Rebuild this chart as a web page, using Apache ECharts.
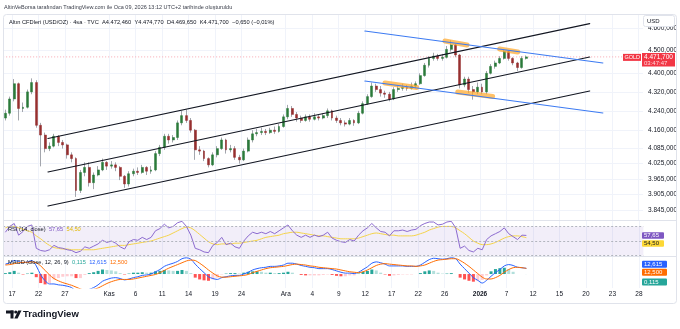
<!DOCTYPE html>
<html><head><meta charset="utf-8">
<script src="https://cdn.jsdelivr.net/npm/echarts@6/dist/echarts.min.js"></script>
<style>html,body{margin:0;padding:0;background:#fff}#c{width:680px;height:329px}</style>
</head><body><div id="c"></div>
<script>
const FONT = "'Liberation Sans', Arial, sans-serif";
const N_SLOTS = 145; // half-day slots, incl. future space
const tickSlots = [2,8,14,24,30,36,42,48,54,64,70,76,82,88,94,100,108,114,120,126,132,138,144];
const tickLabels = ['17','22','27','Kas','6','11','14','19','24','Ara','4','9','12','17','22','26','2026','7','12','15','20','23','28'];
const priceTicks = [3845,3905,3965,4025,4085,4160,4240,4320,4400,4500,4600];

// [open, close, low, high]
const candles = [
[4210,4230,4200,4245],[4230,4290,4220,4300],[4290,4355,4280,4375],[4355,4250,4200,4360],[4250,4255,4235,4275],
[4255,4320,4250,4330],[4320,4360,4310,4378],[4360,4180,4170,4370],[4180,4140,4014,4190],[4140,4085,4070,4150],
[4085,4095,4075,4110],[4095,4135,4090,4145],[4135,4110,4095,4140],[4110,4100,4085,4120],[4100,4060,4045,4105],
[4060,4045,4030,4070],[4045,3920,3895,4050],[3920,3990,3910,4000],[3990,4010,3975,4030],[4010,3950,3935,4030],
[3950,3980,3925,3990],[3980,4000,3975,4015],[4000,4030,3995,4045],[4030,4015,4000,4035],[4015,4020,4005,4035],
[4020,4010,3995,4030],[4010,3975,3960,4015],[3975,3945,3930,3980],[3945,3985,3935,3995],[3985,3995,3975,4005],
[3995,3990,3980,4010],[3990,4010,3985,4020],[4010,3995,3980,4015],[3995,4000,3985,4015],[4000,4065,3995,4075],
[4065,4090,4055,4100],[4090,4135,4080,4145],[4135,4120,4105,4145],[4120,4130,4110,4140],[4130,4190,4120,4200],
[4190,4220,4180,4240],[4220,4200,4190,4245],[4200,4160,4150,4210],[4160,4080,4040,4165],[4080,4075,4060,4095],
[4075,4045,4035,4080],[4045,4020,4010,4050],[4020,4060,4015,4070],[4060,4085,4050,4095],[4085,4120,4080,4130],
[4120,4080,4065,4125],[4080,4085,4070,4100],[4085,4050,4040,4095],[4050,4040,4025,4060],[4040,4075,4035,4085],
[4075,4120,4070,4130],[4120,4145,4110,4160],[4145,4150,4135,4165],[4150,4155,4140,4170],[4155,4150,4140,4165],
[4150,4160,4145,4170],[4160,4155,4145,4175],[4155,4175,4150,4185],[4175,4215,4170,4225],[4215,4250,4205,4265],
[4250,4225,4215,4260],[4225,4210,4195,4235],[4210,4200,4190,4220],[4200,4215,4195,4225],[4215,4205,4195,4225],
[4205,4215,4200,4230],[4215,4210,4200,4225],[4210,4220,4205,4230],[4220,4240,4210,4250],[4240,4210,4200,4245],
[4210,4200,4190,4220],[4200,4190,4180,4210],[4190,4185,4175,4200],[4185,4200,4180,4210],[4200,4190,4178,4205],
[4190,4230,4185,4240],[4230,4270,4225,4280],[4270,4300,4265,4310],[4300,4345,4295,4360],[4345,4330,4320,4355],
[4330,4315,4300,4345],[4315,4310,4295,4325],[4310,4290,4280,4320],[4290,4330,4285,4340],[4330,4335,4320,4345],
[4335,4340,4325,4355],[4340,4335,4325,4350],[4335,4345,4330,4360],[4345,4355,4335,4365],[4355,4390,4350,4400],
[4390,4435,4385,4445],[4435,4465,4425,4475],[4465,4475,4455,4490],[4475,4465,4455,4485],[4465,4470,4455,4485],
[4470,4505,4465,4520],[4505,4525,4495,4545],[4525,4480,4470,4530],[4480,4350,4335,4485],[4350,4375,4340,4385],
[4375,4330,4315,4385],[4330,4320,4287,4345],[4320,4340,4310,4360],[4340,4320,4310,4355],[4320,4400,4310,4410],
[4400,4430,4395,4440],[4430,4445,4420,4455],[4445,4465,4440,4475],[4465,4495,4460,4505],[4495,4465,4455,4500],
[4465,4445,4435,4470],[4445,4425,4410,4450],[4425,4465,4420,4475],[4465,4471.7,4460,4478]
];

const rsi = [62,70,74,58,63,70,72,40,37,36, 38,44,41,40,38,37,34,36,42,40, 43,46,51,48,50,47,42,39,49,52,
 51,55,52,55,64,67,73,68,70,75, 77,70,58,40,38,35,34,44,48,55, 45,47,42,40,50,57,62,60,62,60,
 63,60,64,68,72,64,58,55,58,55, 58,56,58,62,54,51,49,48,52,50, 58,64,68,74,68,63,62,57,64,64,
 65,63,65,66,71,74,76,76,72,73, 76,77,68,40,43,37,35,40,38,52, 57,60,63,68,60,56,52,58,57.65];
const rsiMA = [68,70,70,68,66,64,62,57,53,48, 44,41,40,39,39,38,38,38,38,38, 38,39,40,41,42,43,44,44,45,46,
 47,48,49,50,52,54,56,58,61,64, 67,69,68,64,59,54,49,46,45,46, 46,46,47,47,48,49,50,51,53,55,
 56,57,58,60,61,62,62,61,60,59, 58,57,57,56,55,54,53,53,53,53, 54,56,58,60,61,60,59,58,58,57,
 57,57,57,58,60,62,65,67,69,70, 70,70,68,64,60,55,50,47,45,45, 46,48,51,54,56,57,57,56,54.5];
const macd = [22,25,30,28,25,27,30,18,-2,-15, -22,-22,-24,-25,-27,-30,-38,-42,-38,-34, -30,-24,-16,-12,-9,-8,-10,-13,-11,-8,
 -6,-3,-2,0,5,10,17,21,24,28, 34,36,33,22,12,3,-6,-10,-12,-8, -6,-4,-3,-3,0,4,9,12,14,15,
 17,17,18,20,24,24,22,19,17,15, 14,12,12,12,10,7,4,2,2,1, 4,10,16,24,27,25,22,18,18,18,
 18,17,17,17,20,26,32,35,34,33, 34,36,34,22,12,2,-8,-14,-20,-14, -5,3,10,18,21,19,15,14,12.615];
const signal = [20,21,23,25,26,26,27,25,18,8, -2,-10,-15,-19,-22,-25,-29,-33,-36,-36, -34,-31,-26,-21,-17,-14,-12,-12,-12,-11,
 -9,-7,-5,-3,-1,3,8,13,17,21, 25,29,31,30,24,17,9,2,-4,-7, -7,-6,-5,-4,-3,-1,3,6,9,12,
 14,15,16,17,19,21,22,21,20,18, 17,15,14,13,12,11,9,7,5,4, 3,5,9,14,19,22,23,22,21,20,
 19,18,18,17,18,20,24,28,31,32, 33,34,34,30,24,17,9,1,-7,-11, -11,-8,-3,4,10,14,15,14,12.5];
const hist = [2,4,7,3,-1,1,3,-7,-20,-23, -20,-12,-9,-6,-5,-5,-9,-9,-2,2, 4,7,10,9,8,6,2,-1,1,3,
 3,4,3,3,6,7,9,8,7,7, 9,7,2,-8,-12,-14,-15,-12,-8,-1, 1,2,2,1,3,5,6,6,5,3,
 3,2,2,3,5,3,0,-2,-3,-3, -3,-3,-2,-1,-2,-4,-5,-5,-3,-3, 1,5,7,10,8,3,-1,-4,-3,-2,
 -1,-1,-1,0,2,6,8,7,3,1, 1,2,0,-8,-12,-15,-17,-15,-13,-3, 6,11,13,14,11,5,0,0,0.115];

// drawn lines: [slot position, price]
const channelUpper = [[10.15,4125.9],[132.9,4620.9]];
const channelMid   = [[10.15,3991.9],[132.9,4471.2]];
const channelLower = [[10.15,3860.2],[132.9,4323.8]];
const blueUpper = [[81.95,4587.4],[135.9,4444.9]];
const blueLower = [[81.95,4366.7],[135.9,4231.0]];
const marks = [
  [[86.5,4358.1],[93.7,4338.8]],
  [[100.1,4542.4],[105.1,4524.5]],
  [[112.5,4506.7],[116.6,4493.3]],
  [[103.0,4319.5],[110.9,4300.4]]
];
const lastClose = 4471.7;
const lastOpen = 4472.46, lastHigh = 4474.77, lastLow = 4469.65;
const lastChange = -0.65, lastPct = -0.01;
const rsiLast = 57.65, rsiMALast = 54.50;
const macdLast = 12.615, signalLast = 12.5, histLast = 0.115;

function fmt(v, dec) {
  const s = Math.abs(v).toFixed(dec);
  let [i, d] = s.split('.');
  i = i.replace(/\B(?=(\d{3})+(?!\d))/g, '.');
  return (v < 0 ? '\u2212' : '') + i + (d ? ',' + d : '');
}

const cats = Array.from({length: N_SLOTS}, (_, i) => i);
const bodies = candles.map(c => [c[0], c[1], Math.min(c[0], c[1]), Math.max(c[0], c[1])]);
const GL = 3.17, GW = 640.2;
const GRID_COLOR = '#f0f3fa';

function valueX(gridIndex, showLabels) {
  return {
    type: 'value', gridIndex, min: 0, max: N_SLOTS, position: 'bottom',
    axisLine: {show: false},
    axisTick: {show: false, customValues: tickSlots},
    splitLine: {show: true, lineStyle: {color: GRID_COLOR, width: 1}},
    axisLabel: showLabels ? {
      show: true, customValues: tickSlots, margin: 3, fontSize: 6.5, color: '#131722', fontFamily: FONT,
      formatter: v => { const k = tickSlots.indexOf(Math.round(v)); const t = tickLabels[k] || ''; return t === '2026' ? '{b|2026}' : t; },
      rich: {b: {fontWeight: 'bold', fontSize: 6.5, fontFamily: FONT, color: '#131722'}}
    } : {show: false}
  };
}
function catX(gridIndex) {
  return {type: 'category', gridIndex, data: cats, boundaryGap: true, show: false, position: 'bottom'};
}
function seg(data, color, width, opacity) {
  return {type: 'line', xAxisIndex: 1, yAxisIndex: 0, data, symbol: 'none', silent: true,
    lineStyle: {color, width, opacity: opacity == null ? 1 : opacity, cap: 'round'}, z: 4};
}

const option = {
  animation: false,
  backgroundColor: '#ffffff',
  grid: [
    {left: GL, top: 15, width: GW, height: 205},
    {left: GL, top: 221, width: GW, height: 35},
    {left: GL, top: 257, width: GW, height: 31}
  ],
  xAxis: [catX(0), valueX(0, false), catX(1), valueX(1, false), catX(2), valueX(2, true)],
  yAxis: [
    {type: 'log', logBase: 10, gridIndex: 0, min: 3807.3, max: 4660.3, position: 'right',
      axisLine: {show: false}, axisTick: {show: false, customValues: priceTicks},
      splitLine: {show: true, lineStyle: {color: GRID_COLOR}},
      axisLabel: {customValues: priceTicks, margin: 5, fontSize: 6.5, color: '#131722', fontFamily: FONT,
        formatter: v => fmt(Math.round(v), 3)}},
    {type: 'value', gridIndex: 1, min: 29.45, max: 77.4, show: false, splitLine: {show: false}},
    {type: 'value', gridIndex: 2, min: -31, max: 37.8, show: false, splitLine: {show: false}}
  ],
  series: [
    {type: 'candlestick', xAxisIndex: 0, yAxisIndex: 0, data: candles, barWidth: 1, silent: true,
      itemStyle: {color: '#a3a6ad', color0: '#a3a6ad', borderColor: '#a3a6ad', borderColor0: '#a3a6ad', borderWidth: 1}},
    {type: 'candlestick', xAxisIndex: 0, yAxisIndex: 0, data: bodies, barWidth: 2.4, silent: true,
      itemStyle: {color: '#2b7a3a', color0: '#962f2f', borderColor: '#2b7a3a', borderColor0: '#962f2f', borderWidth: 0.5}},
    seg(channelUpper, '#131722', 1.2),
    seg(channelMid, '#131722', 1.2),
    seg(channelLower, '#131722', 1.2),
    seg(blueUpper, '#3d7bf2', 1.1),
    seg(blueLower, '#3d7bf2', 1.1),
    ...marks.map(m => Object.assign(seg(m, '#ffa726', 5, 0.7), {z: 3})),
    {type: 'line', xAxisIndex: 1, yAxisIndex: 0, data: [[0, lastClose], [N_SLOTS, lastClose]], symbol: 'none', silent: true,
      lineStyle: {type: [1, 2], color: '#f7a8b0', width: 1}, z: 2},
    {type: 'line', xAxisIndex: 2, yAxisIndex: 1, data: rsi, symbol: 'none', silent: true,
      lineStyle: {color: '#8c6bcf', width: 1}, z: 3,
      markArea: {silent: true, itemStyle: {color: 'rgba(126,87,194,0.1)'}, data: [[{yAxis: 30}, {yAxis: 70}]]},
      markLine: {symbol: 'none', silent: true, label: {show: false},
        lineStyle: {type: [2, 2], color: '#b2b5be', width: 1}, data: [{yAxis: 70}, {yAxis: 50}, {yAxis: 30}]}},
    {type: 'line', xAxisIndex: 2, yAxisIndex: 1, data: rsiMA, symbol: 'none', silent: true, smooth: 0.3,
      lineStyle: {color: '#f5d44a', width: 1}, z: 2},
    {type: 'bar', xAxisIndex: 4, yAxisIndex: 2, data: hist, barWidth: 3, silent: true,
      itemStyle: {color: p => {
        const i = p.dataIndex, v = hist[i], pv = i > 0 ? hist[i - 1] : v;
        if (v >= 0) return v >= pv ? '#26a69a' : '#b2dfdb';
        return v < pv ? '#ff5252' : '#ffcdd2';
      }}},
    {type: 'line', xAxisIndex: 4, yAxisIndex: 2, data: macd, symbol: 'none', silent: true, smooth: 0.3,
      lineStyle: {color: '#2962ff', width: 1}, z: 3},
    {type: 'line', xAxisIndex: 4, yAxisIndex: 2, data: signal, symbol: 'none', silent: true, smooth: 0.3,
      lineStyle: {color: '#ff6d00', width: 1}, z: 3}
  ]
};

const chart = echarts.init(document.getElementById('c'));
chart.setOption(option);

const pyMain = v => chart.convertToPixel({yAxisIndex: 0}, v);
const pyRsi = v => chart.convertToPixel({yAxisIndex: 1}, v);
const pyMacd = v => chart.convertToPixel({yAxisIndex: 2}, v);

function tag(x, yc, w, h, fill, text, color, size) {
  return [
    {type: 'rect', shape: {x, y: yc - h / 2, width: w, height: h, r: 1}, style: {fill}, z: 100},
    {type: 'text', x: x + 2, y: yc + 0.3, style: {text, fill: color, fontSize: size || 6, fontFamily: FONT, verticalAlign: 'middle'}, z: 101}
  ];
}

const yL = pyMain(lastClose);
const yR = pyRsi(rsiLast);
const yM = pyMacd((macdLast + signalLast) / 2);
const y0 = pyMacd(0);
const LS = 5.7;

const graphics = [
  {type: 'rect', shape: {x: 3.5, y: 14.5, width: 673, height: 289, r: 3}, style: {fill: 'none', stroke: '#e0e3eb', lineWidth: 1}, z: 90},
  {type: 'line', shape: {x1: 3.5, y1: 220.5, x2: 676.5, y2: 220.5}, style: {stroke: '#e0e3eb', lineWidth: 1}, z: 90},
  {type: 'line', shape: {x1: 3.5, y1: 256.5, x2: 676.5, y2: 256.5}, style: {stroke: '#e0e3eb', lineWidth: 1}, z: 90},
  {type: 'text', x: 4, y: 7, style: {text: 'AltinVeBorsa tarafından TradingView.com ile Oca 09, 2026 13:12 UTC+2 tarihinde oluşturuldu', fill: '#3a3e4a', fontSize: 5.5, fontFamily: FONT, verticalAlign: 'middle'}, z: 100},
  {type: 'text', x: 9, y: 22, style: {
    text: '{t|Altın CFDleri (USD/OZ) · 4sa · TVC} {t|A}{v|' + fmt(lastOpen, 3) + '} {t|Y}{v|' + fmt(lastHigh, 3) + '} {t|D}{v|' + fmt(lastLow, 3) + '} {t|K}{v|' + fmt(lastClose, 3) + '} {v|' + fmt(lastChange, 3) + ' (' + fmt(lastPct, 2) + '%)}',
    rich: {t: {fill: '#131722', fontSize: LS, fontFamily: FONT}, v: {fill: '#131722', fontSize: LS, fontFamily: FONT}},
    verticalAlign: 'middle'}, z: 100},
  {type: 'text', x: 8, y: 229, style: {
    text: '{t|RSI (14, close)} {p|' + fmt(rsiLast, 2) + '} {y|' + fmt(rsiMALast, 2) + '}',
    rich: {t: {fill: '#131722', fontSize: LS, fontFamily: FONT}, p: {fill: '#7e57c2', fontSize: LS, fontFamily: FONT}, y: {fill: '#e2b900', fontSize: LS, fontFamily: FONT}},
    verticalAlign: 'middle'}, z: 100},
  {type: 'text', x: 8, y: 262, style: {
    text: '{t|MACD (close, 12, 26, 9)} {g|' + fmt(histLast, 3) + '} {b|' + fmt(macdLast, 3) + '} {o|' + fmt(signalLast, 3) + '}',
    rich: {t: {fill: '#131722', fontSize: LS, fontFamily: FONT}, g: {fill: '#26a69a', fontSize: LS, fontFamily: FONT}, b: {fill: '#2962ff', fontSize: LS, fontFamily: FONT}, o: {fill: '#ff6d00', fontSize: LS, fontFamily: FONT}},
    verticalAlign: 'middle'}, z: 100},
  // USD box
  {type: 'rect', shape: {x: 643.5, y: 15.5, width: 31, height: 11, r: 2}, style: {fill: '#ffffff', stroke: '#e0e3eb', lineWidth: 1}, z: 100},
  {type: 'text', x: 647, y: 21, style: {text: 'USD', fill: '#131722', fontSize: 6, fontFamily: FONT, verticalAlign: 'middle'}, z: 101},
  // price tag
  {type: 'rect', shape: {x: 642, y: yL - 4, width: 33, height: 13.5}, style: {fill: '#f23645'}, z: 100},
  {type: 'text', x: 644, y: yL + 0.5, style: {text: fmt(lastClose, 3), fill: '#ffffff', fontSize: 6.5, fontFamily: FONT, verticalAlign: 'middle'}, z: 101},
  {type: 'text', x: 644, y: yL + 6.5, style: {text: '03:47:47', fill: '#ffd6da', fontSize: 6, fontFamily: FONT, verticalAlign: 'middle'}, z: 101},
  {type: 'rect', shape: {x: 623, y: yL - 3, width: 18, height: 7}, style: {fill: '#f23645'}, z: 100},
  {type: 'text', x: 624.5, y: yL + 0.5, style: {text: 'GOLD', fill: '#ffffff', fontSize: 5.5, fontFamily: FONT, verticalAlign: 'middle'}, z: 101},
  ...tag(642, yR, 22, 6.5, '#7e57c2', fmt(rsiLast, 2), '#ffffff'),
  ...tag(642, yR + 8, 22, 6.5, '#fdd835', fmt(rsiMALast, 2), '#131722'),
  ...tag(642, yM - 4, 25, 7, '#2962ff', fmt(macdLast, 3), '#ffffff'),
  ...tag(642, yM + 4, 25, 7, '#ff6d00', fmt(signalLast, 3), '#ffffff'),
  ...tag(642, y0 + 8, 25, 7, '#26a69a', fmt(histLast, 3), '#ffffff'),
  // TradingView logo
  {type: 'rect', shape: {x: 6, y: 310.5, width: 7.5, height: 3}, style: {fill: '#131722'}, z: 100},
  {type: 'rect', shape: {x: 10.5, y: 310.5, width: 3, height: 8}, style: {fill: '#131722'}, z: 100},
  {type: 'circle', shape: {cx: 15.8, cy: 312, r: 1.6}, style: {fill: '#131722'}, z: 100},
  {type: 'polygon', shape: {points: [[14.3, 318.5], [17.6, 318.5], [21.5, 310.5], [18.2, 310.5]]}, style: {fill: '#131722'}, z: 100},
  {type: 'text', x: 23, y: 314.5, style: {text: 'TradingView', fill: '#131722', fontSize: 9.5, fontWeight: 'bold', fontFamily: FONT, verticalAlign: 'middle'}, z: 100}
];
chart.setOption({graphic: graphics});
</script>
</body></html>
